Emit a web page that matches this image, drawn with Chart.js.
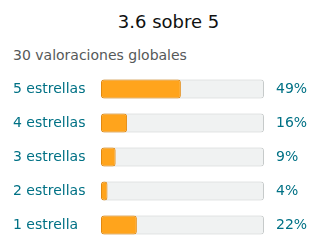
<!DOCTYPE html>
<html lang="es">
<head>
  <meta charset="UTF-8" />
  <title>Valoraciones</title>
  <script src="https://cdn.jsdelivr.net/npm/chart.js"></script>
  <style>
    html, body {
      margin: 0;
      padding: 0;
      width: 320px;
      height: 252px;
      background: #fff;
      font-family: "DejaVu Sans", sans-serif;
      overflow: hidden;
      position: relative;
    }
    .title {
      position: absolute;
      top: 12px;
      left: 0;
      width: 320px;
      padding-left: 17px;
      box-sizing: border-box;
      text-align: center;
      font-size: 18px;
      line-height: 20px;
      color: #0f1111;
    }
    .subtitle {
      position: absolute;
      top: 47px;
      left: 13px;
      font-size: 14px;
      line-height: 16px;
      color: #565959;
    }
    .chart-box {
      position: absolute;
      top: 72px;
      left: 0;
      width: 320px;
      height: 170px;
    }
  </style>
</head>
<body>
  <div class="title">3.6 sobre 5</div>
  <div class="subtitle">30 valoraciones globales</div>

  <div class="chart-box">
    <canvas id="ratingChart"></canvas>
  </div>

  <script>
    // Rating categories and share of reviews (%)
    const starLabels = ['5 estrellas', '4 estrellas', '3 estrellas', '2 estrellas', '1 estrella'];
    const starPercents = [49, 16, 9, 4, 22];
    const percentLabels = ['49%', '16%', '9%', '4%', '22%'];
    const trackValues = [100, 100, 100, 100, 100];

    Chart.defaults.font.family = "'DejaVu Sans', sans-serif";

    // keep the label half-heights from shrinking the chart area
    function fixAxis(width) {
      return function (scale) {
        scale.width = width;
        scale.paddingTop = 0;
        scale.paddingBottom = 0;
      };
    }

    const ctx = document.getElementById('ratingChart').getContext('2d');

    new Chart(ctx, {
      type: 'bar',
      data: {
        labels: starLabels,
        datasets: [
          {
            // orange fill
            data: starPercents,
            backgroundColor: '#FFA41C',
            borderColor: '#E3890F',
            borderWidth: 1,
            borderRadius: 3,
            borderSkipped: false,
            grouped: false,
            order: 1,
            barPercentage: 0.56,
            categoryPercentage: 1
          },
          {
            // grey track behind
            data: trackValues,
            backgroundColor: '#F0F2F2',
            borderColor: '#C6CACA',
            borderWidth: 1,
            borderRadius: 3,
            borderSkipped: false,
            grouped: false,
            order: 2,
            barPercentage: 0.56,
            categoryPercentage: 1
          }
        ]
      },
      options: {
        indexAxis: 'y',
        responsive: true,
        maintainAspectRatio: false,
        animation: false,
        layout: { padding: { left: 13, right: 0, top: 0, bottom: 0 } },
        scales: {
          x: {
            display: false,
            min: 0,
            max: 100
          },
          y: {
            position: 'left',
            offset: true,
            grid: { display: false, drawTicks: false },
            border: { display: false },
            ticks: {
              crossAlign: 'far',
              padding: 0,
              color: '#007185',
              font: { size: 14 }
            },
            afterFit: fixAxis(88)
          },
          y2: {
            type: 'category',
            labels: percentLabels,
            position: 'right',
            offset: true,
            grid: { display: false, drawTicks: false },
            border: { display: false },
            ticks: {
              crossAlign: 'near',
              padding: 12,
              color: '#007185',
              font: { size: 14 }
            },
            afterFit: fixAxis(56)
          }
        },
        plugins: {
          legend: { display: false },
          tooltip: { enabled: false }
        }
      }
    });
  </script>
</body>
</html>
